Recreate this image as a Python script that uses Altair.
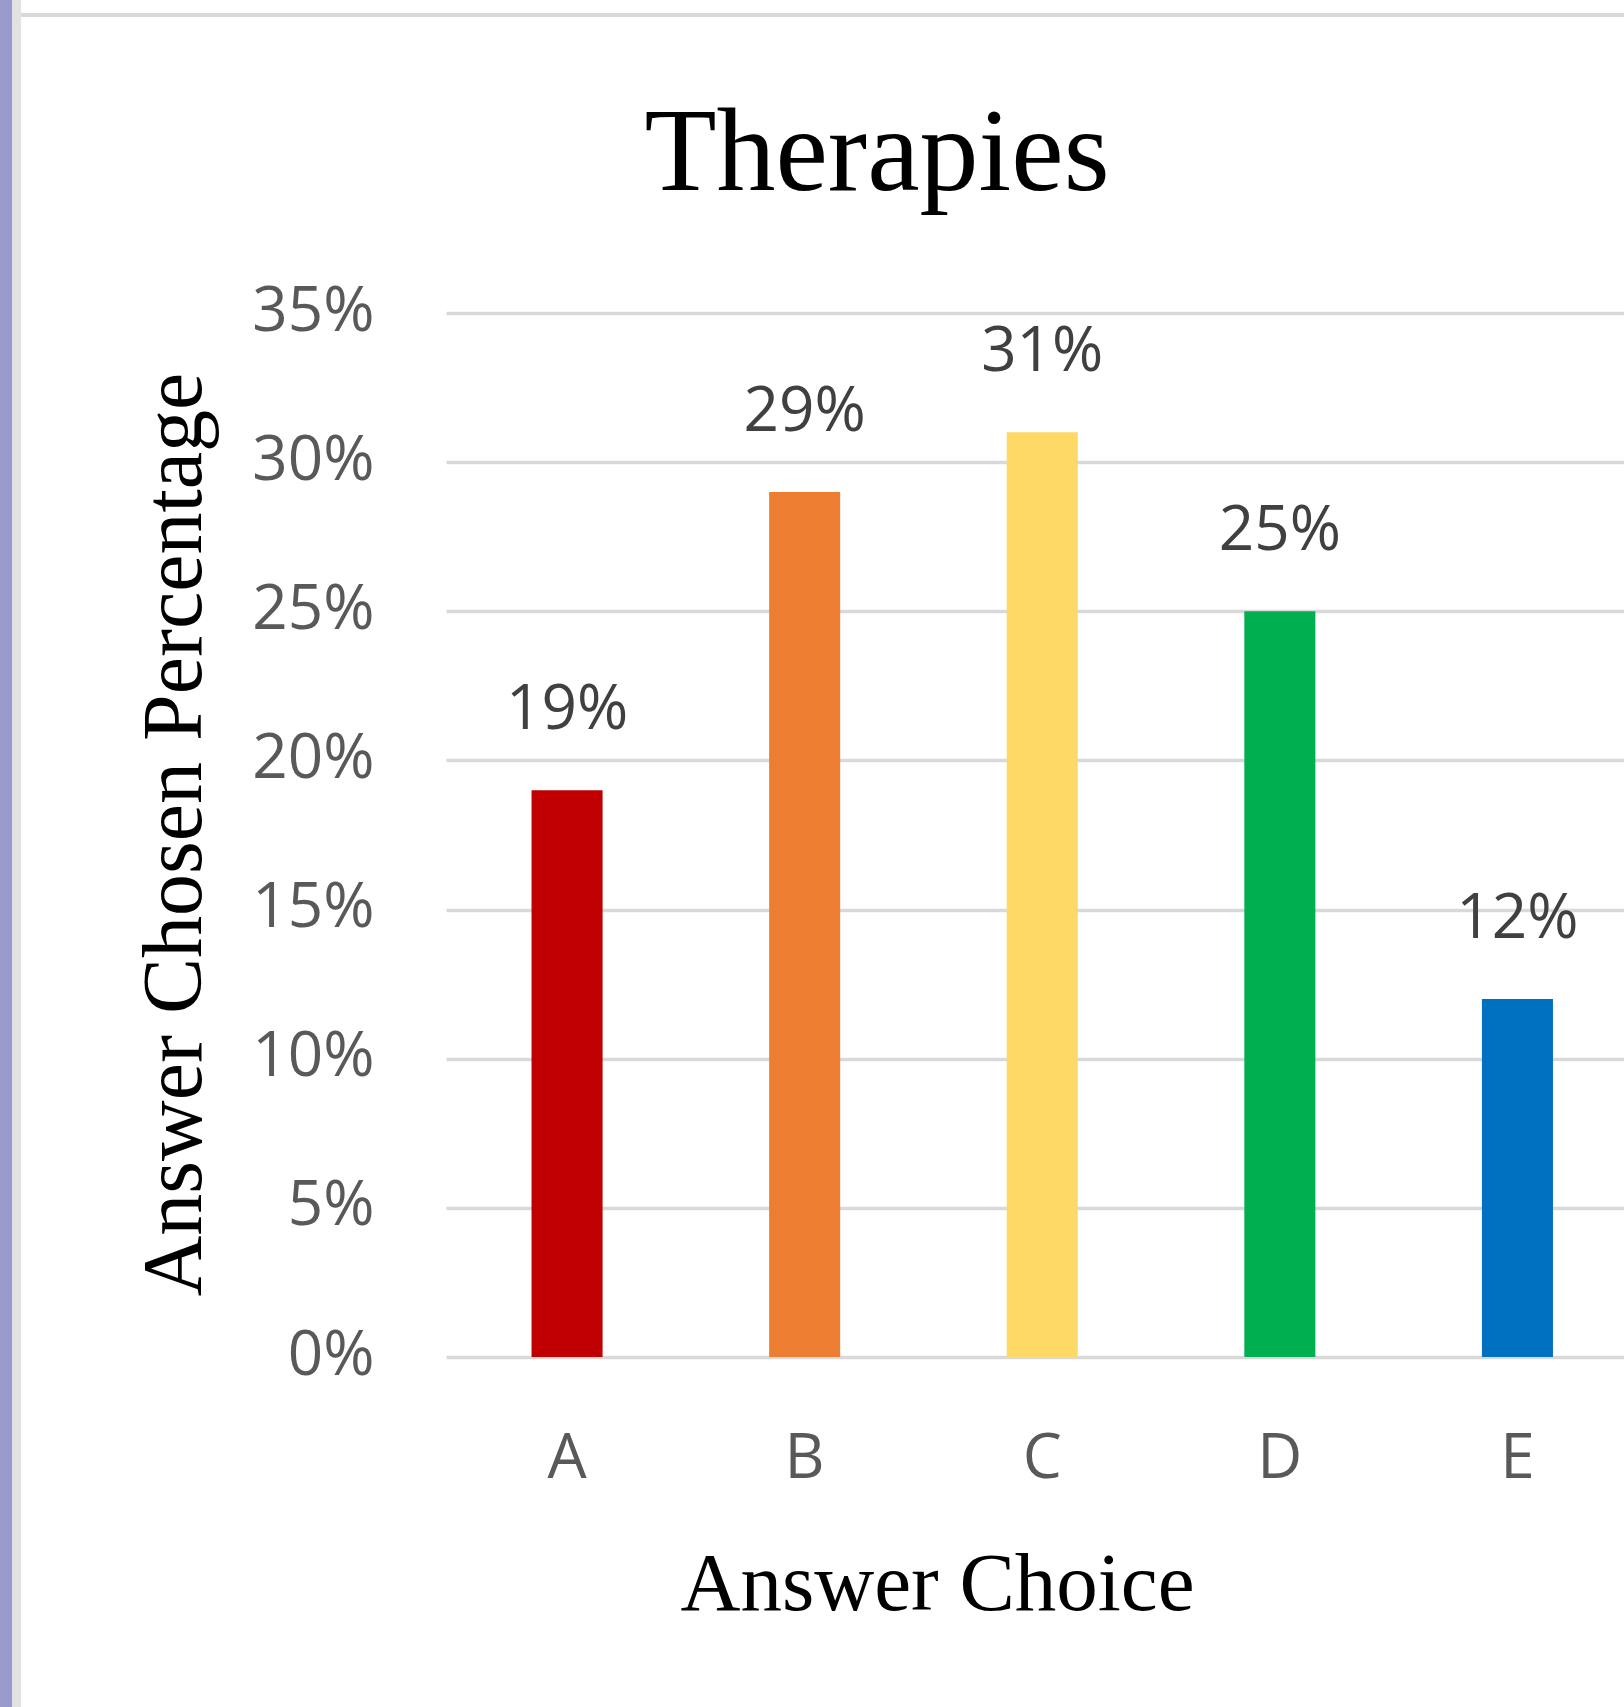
import altair as alt
import pandas as pd

# Survey results: share of respondents picking each answer
choices = ["A", "B", "C", "D", "E"]
shares = [19, 29, 31, 25, 12]
bar_colors = ["#c00000", "#ed7d31", "#ffd966", "#00b050", "#0070c0"]
y_ticks = [0, 5, 10, 15, 20, 25, 30, 35]

df = pd.DataFrame({"choice": choices, "share": shares})
df["label"] = [f"{v}%" for v in shares]

W, H = 1178, 1044
PAD = {"left": 446, "top": 313, "right": 0, "bottom": 350}

SERIF = "Liberation Serif"
SANS = "Open Sans"

x_enc = alt.X(
    "choice:N",
    sort=choices,
    scale=alt.Scale(range=[0, 1192.5], paddingInner=0.701, paddingOuter=0.36),
    axis=alt.Axis(
        title="Answer Choice",
        labelAngle=0,
        ticks=False,
        domain=False,
        labelFont=SANS,
        labelFontSize=62,
        labelColor="#595959",
        labelBaseline="alphabetic",
        labelPadding=120,
        titleFont=SERIF,
        titleFontSize=83,
        titleFontWeight="normal",
        titleColor="#000000",
        titleX=491,
        titleY=252,
        titleBaseline="alphabetic",
        titleAlign="center",
    ),
)

y_enc = alt.Y(
    "share:Q",
    scale=alt.Scale(domain=[0, 35], nice=False),
    axis=alt.Axis(
        values=y_ticks,
        labelExpr="datum.value + '%'",
        grid=True,
        gridColor="#d9d9d9",
        gridWidth=3.5,
        ticks=False,
        domain=False,
        labelFont=SANS,
        labelFontSize=62,
        labelColor="#595959",
        labelPadding=72,
        labelBaseline="alphabetic",
        labelOffset=17,
        title="Answer Chosen Percentage",
        titleFont=SERIF,
        titleFontSize=84,
        titleFontWeight="normal",
        titleColor="#000000",
        titleX=-246,
        titleY=521,
        titleBaseline="alphabetic",
        titleAlign="center",
        titleAngle=270,
    ),
)

bars = alt.Chart(df).mark_bar().encode(
    x=x_enc,
    y=y_enc,
    color=alt.Color("choice:N", scale=alt.Scale(domain=choices, range=bar_colors), legend=None),
)

labels = alt.Chart(df).mark_text(
    font=SANS, fontSize=62, color="#404040", baseline="alphabetic", align="center", dy=-61
).encode(x=alt.X("choice:N", sort=choices), y="share:Q", text="label:N")

# page frame: coloured strip on the left and thin rule along the top
frame = pd.DataFrame({"k": [0]})
left_strip = alt.Chart(frame).mark_rect(color="#9999cc").encode(
    x=alt.value(-446), x2=alt.value(-434), y=alt.value(-313), y2=alt.value(1394)
)
left_edge = alt.Chart(frame).mark_rect(color="#e2e2e2").encode(
    x=alt.value(-434), x2=alt.value(-425), y=alt.value(-313), y2=alt.value(1394)
)
top_rule = alt.Chart(frame).mark_rect(color="#d9d9d9").encode(
    x=alt.value(-425), x2=alt.value(W), y=alt.value(-300), y2=alt.value(-296)
)

chart = (
    alt.layer(left_strip, left_edge, top_rule, bars, labels)
    .properties(
        width=W,
        height=H,
        autosize=alt.AutoSizeParams(type="none"),
        padding=PAD,
        title=alt.TitleParams(
            "Therapies",
            font=SERIF,
            fontSize=118,
            fontWeight="normal",
            color="#000000",
            anchor="middle",
            frame="group",
            dx=-158,
            offset=0,
            dy=308,
            baseline="alphabetic",
        ),
    )
    .configure_view(stroke=None)
)

chart.save("out.html", embed_options={"renderer": "svg", "actions": False})
